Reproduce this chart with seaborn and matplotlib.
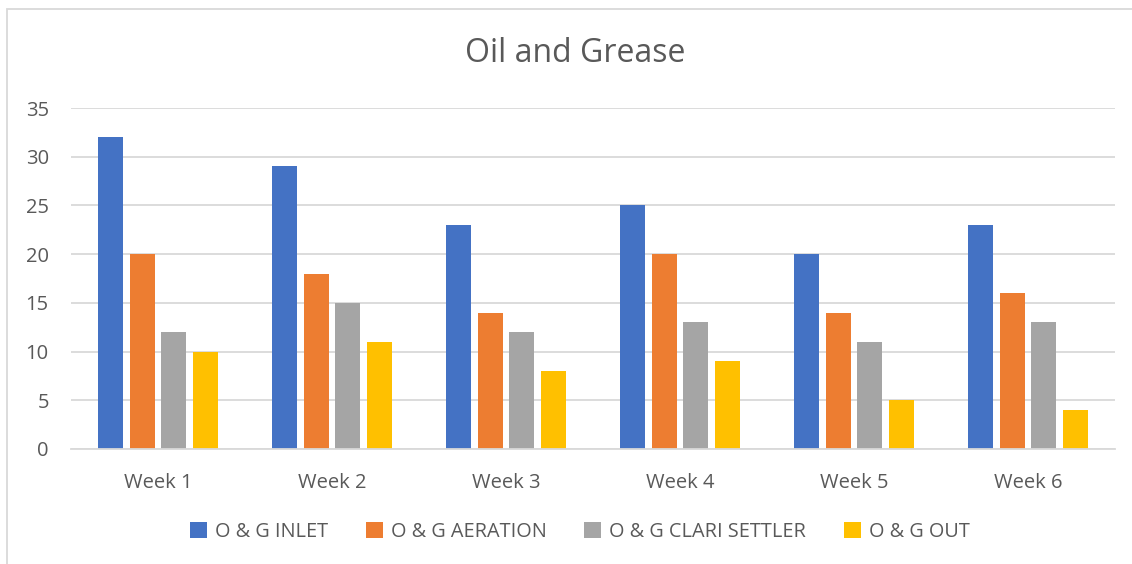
import pandas as pd
import matplotlib.pyplot as plt
from matplotlib.patches import Rectangle
import seaborn as sns

# Dados do gráfico
semanas = ['Week 1', 'Week 2', 'Week 3', 'Week 4', 'Week 5', 'Week 6']
series = ['O & G INLET', 'O & G AERATION', 'O & G CLARI SETTLER', 'O & G OUT']
inlet = [32, 29, 23, 25, 20, 23]
aeration = [20, 18, 14, 20, 14, 16]
clari_settler = [12, 15, 12, 13, 11, 13]
out = [10, 11, 8, 9, 5, 4]
cores = ['#4472C4', '#ED7D31', '#A5A5A5', '#FFC000']
yticks = [0, 5, 10, 15, 20, 25, 30, 35]

df = pd.DataFrame({
    'Semana': semanas * 4,
    'Serie': [s for s in series for _ in semanas],
    'Valor': inlet + aeration + clari_settler + out,
})

sns.set_style('white')
plt.rcParams['font.family'] = ['Open Sans', 'DejaVu Sans']
cinza = '#595959'

fig = plt.figure(figsize=(11.32, 5.64), dpi=100)
ax = fig.add_axes([71 / 1132, 1 - 449 / 564, (1115 - 71) / 1132, (449 - 108) / 564])

sns.barplot(data=df, x='Semana', y='Valor', hue='Serie', palette=cores,
            width=0.725, gap=0.2, ax=ax, legend=True, saturation=1,
            edgecolor='none')

ax.set_ylim(0, 35)
ax.set_xlim(-0.5, 5.5)
ax.set_yticks(yticks)
ax.yaxis.grid(True, color='#D9D9D9', linewidth=1.3)
ax.set_axisbelow(True)
for lado in ['left', 'right', 'top']:
    ax.spines[lado].set_visible(False)
ax.spines['bottom'].set_color('#D9D9D9')
ax.spines['bottom'].set_linewidth(1.3)
ax.tick_params(axis='both', length=0, labelsize=14.5, labelcolor=cinza)
ax.tick_params(axis='x', pad=17)
ax.tick_params(axis='y', pad=16)
ax.set_xlabel('')
ax.set_ylabel('')

fig.text(575 / 1132, 1 - 53 / 564, 'Oil and Grease', ha='center', va='center',
         fontsize=23, color=cinza)

ax.legend(loc='center', bbox_to_anchor=(580 / 1132, 1 - 532 / 564),
          bbox_transform=fig.transFigure, ncol=4, frameon=False, fontsize=14.3,
          labelcolor=cinza, handlelength=0.85, handleheight=0.85,
          handletextpad=0.4, columnspacing=1.9)

# Borda do gráfico
fig.patches.append(Rectangle((7 / 1132, -0.1), 1.2, 1 - 9 / 564 + 0.1,
                             transform=fig.transFigure, fill=False,
                             edgecolor='#D9D9D9', linewidth=1.3))

fig.savefig('out.png', dpi=100)
